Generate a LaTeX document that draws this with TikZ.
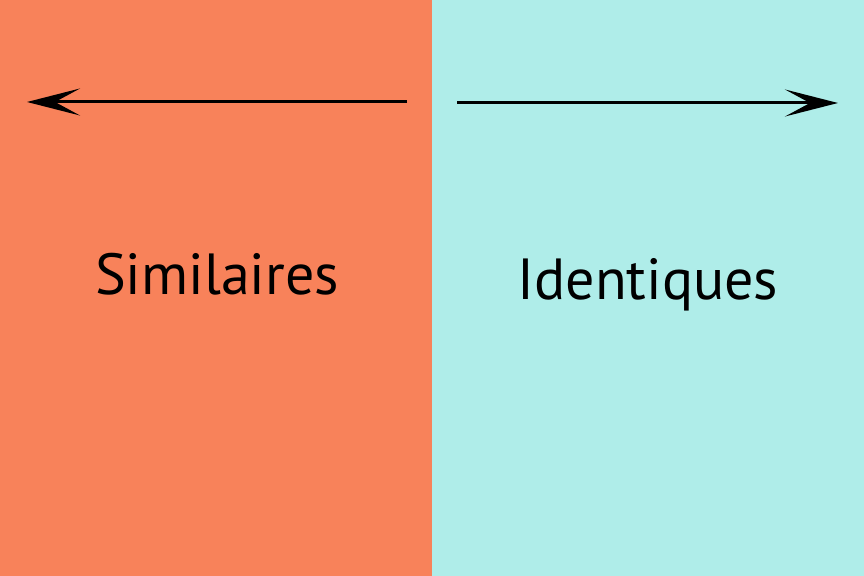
\documentclass[tikz,border=0pt]{standalone}
\usepackage{fontspec}
\setmainfont{PT Sans}
\usepackage{tikz}
\usetikzlibrary{arrows.meta}
\definecolor{simorange}{HTML}{F8825A}
\definecolor{identcyan}{HTML}{AFEDE9}

\begin{document}
\begin{tikzpicture}[
    panel/.style={fill=#1, draw=none},
    label/.style={font=\fontsize{33}{40}\selectfont, anchor=base, inner sep=0pt},
    arrow/.style={-{Stealth[length=1.06cm, width=0.54cm, inset=0.5cm]}, line width=0.06cm},
]

% === Background panels ===
\fill[panel=simorange] (0,0) rectangle (8.64,11.52);
\fill[panel=identcyan] (8.64,0) rectangle (17.28,11.52);
\useasboundingbox (0,0) rectangle (17.28,11.52);

% === Arrows ===
\coordinate (simstart) at (8.14,9.48);
\coordinate (simend) at (0.54,9.48);
\coordinate (identstart) at (9.14,9.46);
\coordinate (identend) at (16.76,9.46);
\draw[arrow] (simstart) -- (simend);
\draw[arrow] (identstart) -- (identend);

% === Labels ===
\node[label] (similaires) at (4.34,5.62) {Similaires};
\node[label] (identiques) at (12.96,5.52) {Identiques};

\end{tikzpicture}
\end{document}
